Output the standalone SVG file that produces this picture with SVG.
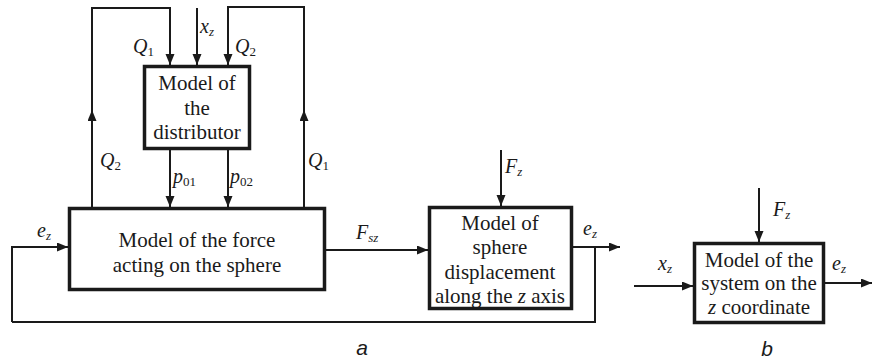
<svg xmlns="http://www.w3.org/2000/svg" width="872" height="361" viewBox="0 0 872 361">
<style>
.box{fill:#fff;stroke:#1a1a1a;stroke-width:3.5}
.ln{fill:none;stroke:#1a1a1a;stroke-width:2}
.t{font-family:"Liberation Serif","Times New Roman",serif;font-size:21px;fill:#1a1a1a;text-anchor:middle}
.lb{font-family:"Liberation Serif","Times New Roman",serif;font-size:20px;fill:#1a1a1a;font-style:italic}
.sub{font-size:13px}
.up{font-style:normal}
.cap{font-family:"Liberation Sans",Arial,sans-serif;font-size:21px;font-style:italic;fill:#1a1a1a;text-anchor:middle}
</style>
<defs>
<marker id="ah" markerUnits="userSpaceOnUse" markerWidth="12" markerHeight="10" refX="11" refY="4.5" orient="auto">
<path d="M0,0 L11,4.5 L0,9 z" fill="#1a1a1a"/>
</marker>
</defs>
<rect width="872" height="361" fill="#fff"/>
<g id="connectors">
<path class="ln" d="M92,207 V110" marker-end="url(#ah)"/>
<path class="ln" d="M92,111 V8 H170 V65" marker-end="url(#ah)"/>
<path class="ln" d="M197,8 V65" marker-end="url(#ah)"/>
<path class="ln" d="M304,207 V110" marker-end="url(#ah)"/>
<path class="ln" d="M304,111 V7 H228 V65" marker-end="url(#ah)"/>
<path class="ln" d="M170,150 V207" marker-end="url(#ah)"/>
<path class="ln" d="M228,150 V207" marker-end="url(#ah)"/>
<path class="ln" d="M12,322 V247 H68" marker-end="url(#ah)"/>
<path class="ln" d="M326,250 H428" marker-end="url(#ah)"/>
<path class="ln" d="M501,150 V206" marker-end="url(#ah)"/>
<path class="ln" d="M573,247 H620" marker-end="url(#ah)"/>
<path class="ln" d="M595,247 V322 H12"/>
<path class="ln" d="M759,188 V242" marker-end="url(#ah)"/>
<path class="ln" d="M634,286 H693" marker-end="url(#ah)"/>
<path class="ln" d="M825,283 H872" marker-end="url(#ah)"/>
</g>
<g id="distributor">
<rect class="box" x="144.5" y="66.5" width="105" height="82"/>
<text class="t" x="197" y="90">Model of</text>
<text class="t" x="197" y="115">the</text>
<text class="t" x="197" y="139">distributor</text>
</g>
<g id="force">
<rect class="box" x="69.5" y="208.5" width="255" height="81"/>
<text class="t" x="197" y="247">Model of the force</text>
<text class="t" x="197" y="272">acting on the sphere</text>
</g>
<g id="sphere">
<rect class="box" x="429.5" y="207.5" width="142" height="101"/>
<text class="t" x="500" y="230">Model of</text>
<text class="t" x="500" y="254">sphere</text>
<text class="t" x="500" y="279">displacement</text>
<text class="t" x="500" y="303">along the <tspan font-style="italic">z</tspan> axis</text>
</g>
<g id="system">
<rect class="box" x="694.5" y="243.5" width="129" height="79"/>
<text class="t" x="759" y="267">Model of the</text>
<text class="t" x="759" y="290">system on the</text>
<text class="t" x="759" y="314"><tspan font-style="italic">z</tspan> coordinate</text>
</g>
<g id="labels">
<text class="lb" x="133" y="53">Q<tspan class="sub up" dy="3">1</tspan></text>
<text class="lb" x="200" y="33">x<tspan class="sub" dy="3">z</tspan></text>
<text class="lb" x="235" y="53">Q<tspan class="sub up" dy="3">2</tspan></text>
<text class="lb" x="100" y="167">Q<tspan class="sub up" dy="3">2</tspan></text>
<text class="lb" x="308" y="167">Q<tspan class="sub up" dy="3">1</tspan></text>
<text class="lb" x="173" y="183">p<tspan class="sub up" dy="3">01</tspan></text>
<text class="lb" x="230" y="183">p<tspan class="sub up" dy="3">02</tspan></text>
<text class="lb" x="37" y="237">e<tspan class="sub" dy="3">z</tspan></text>
<text class="lb" x="356" y="239">F<tspan class="sub" dy="3">sz</tspan></text>
<text class="lb" x="505" y="173">F<tspan class="sub" dy="3">z</tspan></text>
<text class="lb" x="583" y="235">e<tspan class="sub" dy="3">z</tspan></text>
<text class="lb" x="773" y="216">F<tspan class="sub" dy="3">z</tspan></text>
<text class="lb" x="658" y="270">x<tspan class="sub" dy="3">z</tspan></text>
<text class="lb" x="832" y="270">e<tspan class="sub" dy="3">z</tspan></text>
<text class="cap" x="362" y="355">a</text>
<text class="cap" x="767" y="356">b</text>
</g>
</svg>
